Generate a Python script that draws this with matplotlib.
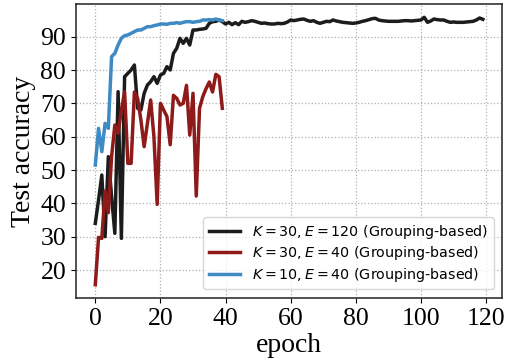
import matplotlib.pyplot as plt
plt.switch_backend('Agg')

# test accuracy per epoch
acc_k30_e120 = [
    34, 41, 48.5, 30, 54, 42, 31, 73.5, 29.5, 78,
    79, 80, 81.5, 68.5, 68, 73, 75.5, 76.5, 78, 76,
    78.5, 79, 81, 80, 85, 86.5, 89.5, 88, 89.5, 87.5,
    92, 92, 92.2, 92.3, 92.5, 94, 94.5, 94.6, 95, 94.5,
    93.8, 94.3, 93.6, 94.2, 93.6, 94.6, 94.3, 94.5, 94.8, 94.6,
    94.3, 94, 94.1, 93.9, 93.8, 93.8, 94, 93.9, 94, 94.4,
    95, 94.8, 95, 95.2, 95.3, 94.9, 94.6, 94.8, 94.3, 94,
    94.3, 94.6, 94.5, 95, 94.7, 94.5, 94.3, 94.2, 94.1, 94,
    94.1, 94.3, 94.6, 94.8, 95.1, 95.4, 95.5, 95, 94.8, 94.7,
    94.6, 94.6, 94.6, 94.6, 94.7, 94.8, 94.8, 94.7, 94.8, 94.9,
    95, 95.8, 94.3, 94.7, 95.3, 95.1, 95, 95, 94.6, 94.3,
    94.4, 94.3, 94.3, 94.3, 94.4, 94.5, 94.6, 95, 95.6, 95.2,
]
acc_k30_e40 = [
    15.6, 29.8, 29.5, 43.7, 37.2, 54, 63.5, 61, 68, 73.4,
    52, 52, 73.4, 71.5, 65, 57, 64, 71, 60, 39.7,
    70, 68, 66, 57.6, 72.4, 71.5, 69.5, 70, 75.4, 60.5,
    73, 42.2, 68.5, 72, 74.4, 76.4, 73.4, 78.7, 78, 68.5,
]
acc_k10_e40 = [
    51.5, 62.5, 55.5, 64, 62.5, 84, 85, 87.5, 89.5, 90.3,
    90.5, 91, 91.5, 92, 92, 92.5, 93, 93, 93.3, 93.5,
    93.8, 93.8, 93.7, 94, 94, 94.2, 94, 94.3, 94.5, 94.5,
    94.3, 94.5, 94.6, 95, 95, 95.1, 95, 95.3, 95, 94.8,
]
series_labels = [
    r'$K=30, E=120$ (Grouping-based)',
    r'$K=30, E=40$ (Grouping-based)',
    r'$K=10, E=40$ (Grouping-based)',
]
series_colors = ['#1c1c1c', '#8e1a1a', '#3d8ac4']

fig = plt.figure(figsize=(5.13, 3.6), dpi=100)
ax = fig.add_axes([0.148, 0.172, 0.831, 0.817])

for values, label, color in zip([acc_k30_e120, acc_k30_e40, acc_k10_e40],
                                series_labels, series_colors):
    ax.plot(range(len(values)), values, color=color, linewidth=2.5, label=label)

ax.grid(True, linestyle=':', color='#b0b0b0', linewidth=0.9)
ax.set_xticks(range(0, 121, 20))
ax.set_yticks(range(20, 91, 10))
for spine in ax.spines.values():
    spine.set_color('#333333')
    spine.set_linewidth(1.2)

serif = ['Liberation Serif', 'DejaVu Serif']
for lbl in ax.get_xticklabels() + ax.get_yticklabels():
    lbl.set_family(serif)
    lbl.set_fontsize(18.5)
ax.set_xlabel('epoch', family=serif, fontsize=20, labelpad=2)
ax.set_ylabel('Test accuracy', family=serif, fontsize=20, labelpad=3)

ax.legend(loc='lower right', fontsize=10.3, handlelength=2.2,
          labelspacing=0.25, borderaxespad=0.6)

fig.savefig('out.png', dpi=100)
